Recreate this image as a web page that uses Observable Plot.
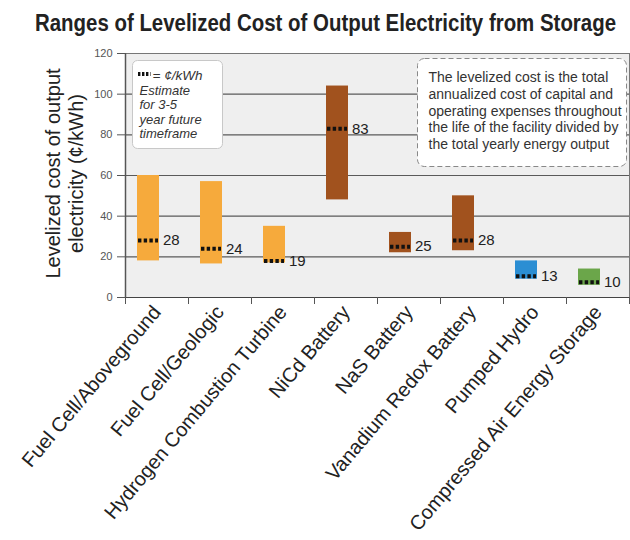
<!DOCTYPE html>
<html>
<head>
<meta charset="utf-8">
<script src="https://cdn.jsdelivr.net/npm/d3@7"></script>
<script src="https://cdn.jsdelivr.net/npm/@observablehq/plot@0.6"></script>
<style>
  html, body { margin: 0; padding: 0; background: #fff; }
  #title { position: relative; height: 45px; font-family: "Liberation Sans", Arial, sans-serif; }
  #title span { position: absolute; left: 35px; top: 12px; font-size: 23px; line-height: 1; font-weight: bold; color: #222; white-space: nowrap; transform-origin: 0 0; }
</style>
</head>
<body>
<div id="title"><span>Ranges of Levelized Cost of Output Electricity from Storage</span></div>
<div id="chart"></div>
<script>
const categories = ["Fuel Cell/Aboveground", "Fuel Cell/Geologic", "Hydrogen Combustion Turbine", "NiCd Battery", "NaS Battery", "Vanadium Redox Battery", "Pumped Hydro", "Compressed Air Energy Storage"];
const lowValues = [18, 16.5, 17, 48, 22, 23, 9, 6];
const highValues = [60, 57, 35, 104, 32, 50, 18, 14];
const estimateLabels = [28, 24, 19, 83, 25, 28, 13, 10];
const markerValues = [28, 24, 18, 83, 25, 28, 10.5, 7.5];
const groups = ["hydrogen", "hydrogen", "hydrogen", "battery", "battery", "battery", "hydro", "air"];
const groupColors = {hydrogen: "#f6aa3c", battery: "#a1521e", hydro: "#2b8ed3", air: "#6ba64a"};
const yTicks = [0, 20, 40, 60, 80, 100, 120];
const gridValues = [20, 40, 60, 80, 100];
const legendLines = ["Estimate", "for 3-5", "year future", "timeframe"];
const noteLines = ["The levelized cost is the total", "annualized cost of capital and", "operating expenses throughout", "the life of the facility divided by", "the total yearly energy output"];

const data = categories.map((c, i) => ({
  cat: c, low: lowValues[i], high: highValues[i], est: estimateLabels[i], marker: markerValues[i], color: groupColors[groups[i]]
}));

const W = 630, H = 495, ML = 125, MR = 1, MT = 8, MB = 243;
const font = "'Liberation Sans', Arial, sans-serif";

const plot = Plot.plot({
  width: W, height: H,
  marginLeft: ML, marginRight: MR, marginTop: MT, marginBottom: MB,
  style: {fontFamily: font, background: "transparent", overflow: "visible"},
  x: {domain: categories, padding: 0},
  y: {domain: [0, 120]},
  marks: [
    Plot.frame({fill: "#efefef"}),
    Plot.ruleY(gridValues, {stroke: "#5a5a5a", strokeWidth: 1.1}),
    Plot.frame({stroke: "#777"}),
    Plot.ruleY([0], {stroke: "#444", strokeWidth: 1.2}),
    Plot.ruleX([categories[0]], {dx: -31.5, stroke: "#555", strokeWidth: 1.5}),
    Plot.barY(data, {x: "cat", y1: "low", y2: "high", fill: "color", insetLeft: 12, insetRight: 29}),
    Plot.tickY(data, {x: "cat", y: "marker", stroke: "#111", strokeWidth: 4, strokeDasharray: "3.4,2.3", insetLeft: 13, insetRight: 30}),
    Plot.text(data, {x: "cat", y: "marker", text: d => String(d.est), dx: 6, textAnchor: "start", fontSize: 15, fill: "#222"}),
    // legend box
    Plot.frame({insetLeft: 7, insetRight: 407, insetTop: 7, insetBottom: 149, rx: 5, fill: "#fff", stroke: "#c8c8c8"}),
    Plot.text(["= ¢/kWh"], {frameAnchor: "top-left", dx: 27, dy: 17, fontSize: 13.5, fontStyle: "italic", fill: "#333", textAnchor: "start"}),
    Plot.text([legendLines.join("\n")], {frameAnchor: "top-left", dx: 14, dy: 31.5, fontSize: 13, lineHeight: 1.1, fontStyle: "italic", fill: "#333", textAnchor: "start"}),
    // note box
    Plot.frame({insetLeft: 292, insetRight: 3, insetTop: 5, insetBottom: 131, rx: 7, fill: "#fff", stroke: "#888", strokeDasharray: "5,3"}),
    Plot.text([noteLines.join("\n")], {frameAnchor: "top-left", dx: 303, dy: 17, fontSize: 14, lineHeight: 1.19, fill: "#333", textAnchor: "start"}),
    // axes
    Plot.axisY({ticks: yTicks, tickSize: 8, tickPadding: 5, fontSize: 11, color: "#555", label: null}),
    Plot.axisX({tickSize: 7, dx: -31.5, tickFormat: () => "", label: null, stroke: "#555"}),
    Plot.axisX([categories[categories.length - 1]], {tickSize: 7, dx: 31.5, tickFormat: () => "", label: null, stroke: "#555"}),
    Plot.axisX({tickRotate: -50, tickSize: 0, tickPadding: 11, fontSize: 20, fill: "#222", label: null}),
    Plot.text(["Levelized cost of output\nelectricity (¢/kWh)"], {frameAnchor: "left", rotate: -90, dx: -61.5, dy: -2, fontSize: 20, lineHeight: 1.15, fill: "#222", textAnchor: "middle"})
  ]
});
document.getElementById("chart").appendChild(plot);

// dotted sample in the legend box
d3.select(plot).append("line")
  .attr("x1", ML + 13).attr("x2", ML + 25.5)
  .attr("y1", MT + 21).attr("y2", MT + 21)
  .attr("stroke", "#111").attr("stroke-width", 4).attr("stroke-dasharray", "2.4,1.6");

// fit title width
const span = document.querySelector("#title span");
const w = span.getBoundingClientRect().width;
span.style.transform = `scaleX(${581 / w})`;
</script>
</body>
</html>
